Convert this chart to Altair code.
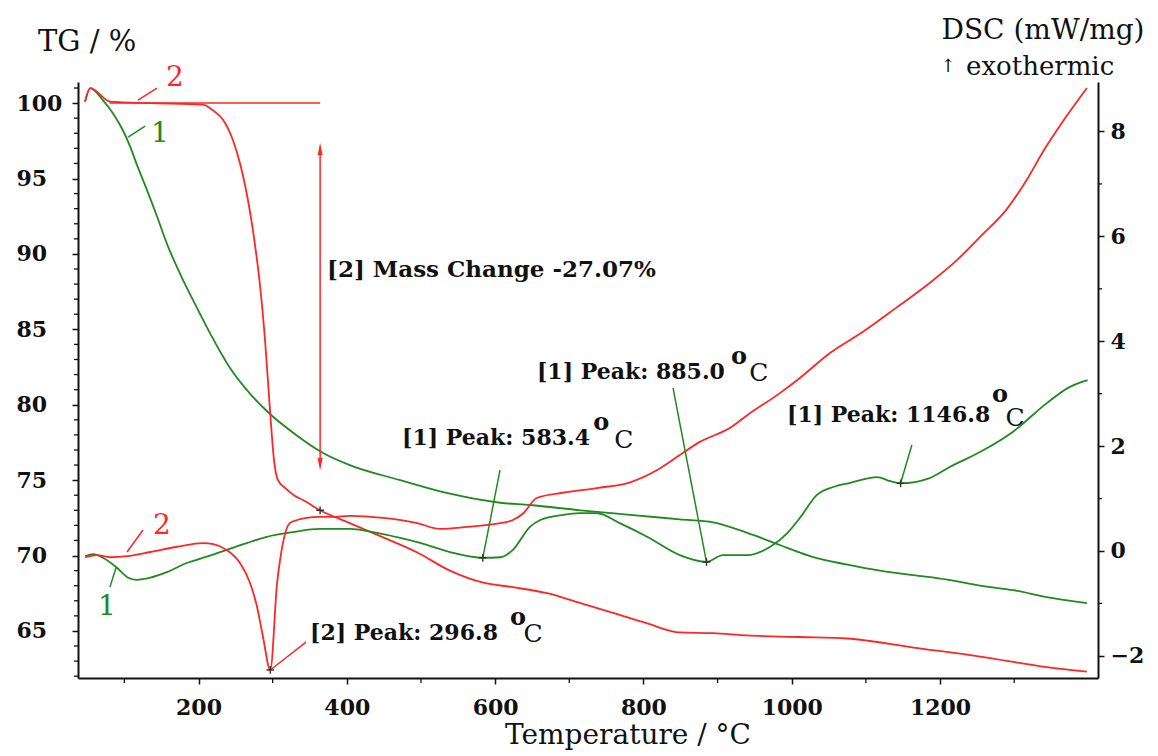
import altair as alt
import pandas as pd

# ---------------- data ----------------
# TG curve 1 (green), temperature in °C and mass in %
tg1_T = [47, 54, 71, 85, 98, 108, 117, 130, 144, 158, 175, 193, 216, 243, 270, 296, 333, 368, 404,
         472, 539, 607, 647, 715, 782, 849, 894, 940, 984, 1011, 1029, 1075, 1119, 1164, 1210, 1254,
         1299, 1344, 1398]
tg1_v = [100.1, 101.0, 100.2, 99.3, 98.2, 97.1, 95.9, 94.3, 92.5, 90.6, 88.7, 86.9, 84.7, 82.4, 80.7,
         79.4, 77.95, 76.8, 76.0, 75.0, 74.1, 73.5, 73.35, 73.0, 72.7, 72.4, 72.2, 71.5, 70.7, 70.2,
         69.9, 69.4, 69.0, 68.7, 68.4, 68.0, 67.7, 67.25, 66.85]

# TG curve 2 (red)
tg2_T = [47, 54, 81, 135, 206, 220, 233, 246, 256, 262.7, 269.5, 276.2, 282.9, 289.7, 296.4, 301.8,
         307.2, 316.7, 330.1, 341, 364, 404, 449, 495, 539, 584, 624, 670, 715, 759, 805, 849, 894,
         940, 1011, 1075, 1164, 1254, 1344, 1398]
tg2_v = [100.1, 101.0, 100.1, 100.0, 99.9, 99.5, 98.9, 97.6, 96.0, 94.57, 92.78, 90.59, 87.94, 84.29,
         79.65, 76.33, 75.0, 74.48, 73.95, 73.68, 73.0, 72.15, 71.2, 70.2, 69.0, 68.2, 67.9, 67.5,
         66.85, 66.2, 65.5, 64.9, 64.85, 64.7, 64.6, 64.5, 63.9, 63.3, 62.6, 62.3]

# DSC curve 1 (green), mW/mg
dsc1_T = [47, 58, 71, 90, 104, 117, 135, 158, 184, 211, 238, 265, 292, 327, 364, 404, 435, 472, 495,
          539, 583.4, 607, 624, 647, 661, 692, 714, 737, 768, 805, 849, 885, 907, 940, 971, 994, 1011,
          1034, 1056, 1079, 1115, 1133, 1146.8, 1186, 1213, 1257, 1298, 1344, 1375, 1399]
dsc1_v = [-0.10, -0.06, -0.13, -0.32, -0.50, -0.55, -0.51, -0.40, -0.23, -0.11, 0.02, 0.15, 0.27, 0.36,
          0.42, 0.42, 0.36, 0.25, 0.17, -0.02, -0.13, -0.12, 0.02, 0.46, 0.59, 0.69, 0.72, 0.72, 0.53,
          0.27, -0.08, -0.21, -0.08, -0.08, 0.08, 0.34, 0.63, 1.07, 1.22, 1.30, 1.41, 1.33, 1.29, 1.39,
          1.60, 1.91, 2.27, 2.82, 3.13, 3.26]

# DSC curve 2 (red)
dsc2_T = [47, 63, 81, 104, 135, 171, 206, 220, 238, 256, 269.5, 279, 287, 296.8, 306, 310, 317, 323,
          333, 346, 360, 381, 404, 449, 495, 526, 562, 607, 624, 638, 656, 691, 737, 782, 818, 849, 876,
          917, 940, 984, 1011, 1052, 1096, 1142, 1186, 1223, 1254, 1290, 1317, 1339, 1366, 1398]
dsc2_v = [-0.12, -0.08, -0.12, -0.10, -0.02, 0.08, 0.15, 0.13, 0.02, -0.23, -0.61, -1.07, -1.64, -2.27,
          -0.61, -0.17, 0.34, 0.53, 0.59, 0.63, 0.65, 0.65, 0.67, 0.63, 0.53, 0.42, 0.46, 0.53, 0.59,
          0.72, 1.01, 1.11, 1.20, 1.31, 1.54, 1.83, 2.08, 2.35, 2.59, 3.01, 3.30, 3.78, 4.18, 4.65, 5.11,
          5.55, 5.99, 6.52, 7.08, 7.62, 8.20, 8.83]

# axis ticks
x_ticks = [200, 400, 600, 800, 1000, 1200]
x_minor = [100, 300, 500, 700, 900, 1100, 1300]
tg_ticks = [65, 70, 75, 80, 85, 90, 95, 100]
tg_minor = [v for v in range(62, 102) if v % 5 != 0]
dsc_ticks = [-2, 0, 2, 4, 6, 8]
dsc_minor = [-1, 1, 3, 5, 7]

# annotations (TG-scale positions)
peak_text = ["[1] Peak: 583.4", "[1] Peak: 885.0", "[1] Peak: 1146.8", "[2] Peak: 296.8"]
peak_T = [474.5, 656.4, 993.6, 350.4]
peak_v = [77.79, 82.17, 79.32, 64.86]
deg_o_T = [743.0, 929.0, 1281.0, 631.0]
deg_o_v = [78.79, 83.16, 80.64, 65.86]
deg_C_T = [773.5, 955.6, 1301.0, 651.0]
deg_C_v = [77.66, 82.10, 79.12, 64.79]
mass_text = "[2] Mass Change -27.07%"
mass_T, mass_v = 373.3, 88.93
num_text = ["2", "1", "2", "1"]
num_T = [168.3, 148.0, 150.8, 76.6]
num_v = [101.66, 97.96, 71.96, 66.59]
num_c = ["red", "green", "red", "green"]

# leader lines on TG scale
tg_lead_x1 = [118.4, 105.0, 80.0, 364.0]
tg_lead_y1 = [100.2, 97.75, 100.0, 96.95]
tg_lead_x2 = [143.9, 128.0, 364.0, 364.0]
tg_lead_y2 = [101.0, 98.48, 100.0, 76.07]
tg_lead_c = ["red", "green", "red", "red"]
arrow_T = [364.0, 364.0]
arrow_v = [96.95, 76.07]
arrow_dir = ["up", "down"]
tg_mark_T, tg_mark_v = [364.0], [73.0]

# leader lines on DSC scale
dsc_lead_x1 = [103.6, 80.6, 583.4, 885.0, 1146.8, 296.8]
dsc_lead_y1 = [-0.02, -0.69, -0.13, -0.21, 1.29, -2.27]
dsc_lead_x2 = [125.2, 88.7, 606.6, 839.9, 1162.0, 345.0]
dsc_lead_y2 = [0.40, -0.32, 1.54, 3.11, 2.02, -1.74]
dsc_lead_c = ["red", "green", "green", "green", "green", "red"]
dsc_mark_T = [583.4, 885.0, 1146.8, 296.8]
dsc_mark_v = [-0.13, -0.21, 1.29, -2.27]

# ---------------- styling ----------------
FONT = "DejaVu Serif"
RED = "#ff2626"
GREEN = "#208a20"
INK = "#111111"
CMAP = {"red": RED, "green": GREEN}
W, H = 1020, 596

X_DOM = [37.5, 1413.0]
TG_DOM = [61.88, 101.40]
DSC_DOM = [-2.423, 8.944]

xscale = alt.Scale(domain=X_DOM, nice=False, zero=False)
tgscale = alt.Scale(domain=TG_DOM, nice=False, zero=False)
dscscale = alt.Scale(domain=DSC_DOM, nice=False, zero=False)

common_axis = dict(grid=False, domainColor=INK, domainWidth=2, tickColor=INK, tickWidth=1.5,
                   tickSize=6, labelFont=FONT, labelFontSize=22, labelFontWeight="bold",
                   labelColor=INK, title=None, labelOverlap=False)
x_axis = alt.Axis(orient="bottom", values=x_ticks, format="d", labelPadding=13, **common_axis)
tg_axis = alt.Axis(orient="left", values=tg_ticks, labelAlign="left", labelPadding=56, **common_axis)
dsc_axis = alt.Axis(orient="right", values=dsc_ticks, labelPadding=6, **common_axis)


def X(f):
    return alt.X(f, type="quantitative", scale=xscale, axis=x_axis)


def YT(f):
    return alt.Y(f, type="quantitative", scale=tgscale, axis=tg_axis)


def YD(f):
    return alt.Y(f, type="quantitative", scale=dscscale, axis=dsc_axis)


COL = alt.Color("col:N", scale=None)

# ---------------- tables ----------------
tg_df = pd.concat([
    pd.DataFrame({"T": tg1_T, "v": tg1_v, "s": "tg1", "col": GREEN}),
    pd.DataFrame({"T": tg2_T, "v": tg2_v, "s": "tg2", "col": RED}),
])
dsc_df = pd.concat([
    pd.DataFrame({"T": dsc1_T, "v": dsc1_v, "s": "dsc1", "col": GREEN}),
    pd.DataFrame({"T": dsc2_T, "v": dsc2_v, "s": "dsc2", "col": RED}),
])
tg_lead = pd.DataFrame({"x1": tg_lead_x1, "y1": tg_lead_y1, "x2": tg_lead_x2, "y2": tg_lead_y2,
                        "col": [CMAP[c] for c in tg_lead_c]})
dsc_lead = pd.DataFrame({"x1": dsc_lead_x1, "y1": dsc_lead_y1, "x2": dsc_lead_x2, "y2": dsc_lead_y2,
                         "col": [CMAP[c] for c in dsc_lead_c]})
UP = "M0,-1L0.42,1L-0.42,1Z"
DOWN = "M0,1L0.42,-1L-0.42,-1Z"
arrow_df = pd.DataFrame({"T": arrow_T, "v": arrow_v, "shp": [UP if d == "up" else DOWN for d in arrow_dir]})
peak_df = pd.DataFrame({"T": peak_T + [mass_T], "v": peak_v + [mass_v], "txt": peak_text + [mass_text],
                        "sz": [22, 22, 22, 22, 23]})
o_df = pd.DataFrame({"T": deg_o_T, "v": deg_o_v, "txt": ["o"] * 4})
c_df = pd.DataFrame({"T": deg_C_T, "v": deg_C_v, "txt": ["C"] * 4})
num_df = pd.DataFrame({"T": num_T, "v": num_v, "txt": num_text, "col": [CMAP[c] for c in num_c]})

CROSS = "M-1,0L1,0M0,-1L0,1"

# ---------------- TG group (left axis) ----------------
tg_lines = alt.Chart(tg_df).mark_line(interpolate="monotone", strokeWidth=1.8).encode(
    x=X("T"), y=YT("v"), color=COL, detail="s:N")
tg_leaders = alt.Chart(tg_lead).mark_rule(strokeWidth=1.5).encode(
    x=X("x1"), y=YT("y1"), x2="x2", y2="y2", color=COL)
arrows = alt.Chart(arrow_df).mark_point(filled=True, size=150, opacity=1, color=RED).encode(
    x=X("T"), y=YT("v"), shape=alt.Shape("shp:N", scale=None))
tg_marks = alt.Chart(pd.DataFrame({"T": tg_mark_T, "v": tg_mark_v})).mark_point(
    shape=CROSS, filled=False, size=60, strokeWidth=1.4, color="#333333", opacity=1).encode(
    x=X("T"), y=YT("v"))
peak_labels = alt.Chart(peak_df).mark_text(align="left", baseline="middle", font=FONT,
                                           fontWeight="bold", color=INK).encode(
    x=X("T"), y=YT("v"), text="txt:N", size=alt.Size("sz:Q", scale=None))
o_labels = alt.Chart(o_df).mark_text(align="center", baseline="middle", font=FONT, fontWeight="bold",
                                     fontSize=24, color=INK).encode(x=X("T"), y=YT("v"), text="txt:N")
c_labels = alt.Chart(c_df).mark_text(align="center", baseline="middle", font=FONT, fontSize=25,
                                     color=INK).encode(x=X("T"), y=YT("v"), text="txt:N")
num_labels = alt.Chart(num_df).mark_text(align="center", baseline="middle", font=FONT, fontSize=28).encode(
    x=X("T"), y=YT("v"), text="txt:N", color=COL)
tg_minor_ticks = alt.Chart(pd.DataFrame({"v": tg_minor})).mark_rule(color=INK, strokeWidth=1.3).encode(
    y=YT("v"), x=alt.value(0), x2=alt.value(-4))
x_minor_ticks = alt.Chart(pd.DataFrame({"T": x_minor})).mark_rule(color=INK, strokeWidth=1.3).encode(
    x=X("T"), y=alt.value(H), y2=alt.value(H + 5))


def title_text(txt, xpx, ypx, size, align="left"):
    return alt.Chart(pd.DataFrame({"t": [txt]})).mark_text(
        align=align, baseline="alphabetic", font=FONT, fontSize=size, color=INK).encode(
        x=alt.value(xpx), y=alt.value(ypx), text="t:N")


titles = [
    title_text("TG / %", -40, -31, 29),
    title_text("DSC (mW/mg)", 965, -43, 28, "center"),
    title_text("↑", 870, -10, 18, "center"),
    title_text("exothermic", 888, -7, 26),
    title_text("Temperature / °C", 550, 662, 28, "center"),
]

tg_group = alt.layer(tg_lines, tg_leaders, arrows, tg_marks, peak_labels, o_labels, c_labels,
                     num_labels, tg_minor_ticks, x_minor_ticks, *titles)

# ---------------- DSC group (right axis) ----------------
dsc_lines = alt.Chart(dsc_df).mark_line(interpolate="monotone", strokeWidth=1.8).encode(
    x=X("T"), y=YD("v"), color=COL, detail="s:N")
dsc_leaders = alt.Chart(dsc_lead).mark_rule(strokeWidth=1.5).encode(
    x=X("x1"), y=YD("y1"), x2="x2", y2="y2", color=COL)
dsc_marks = alt.Chart(pd.DataFrame({"T": dsc_mark_T, "v": dsc_mark_v})).mark_point(
    shape=CROSS, filled=False, size=60, strokeWidth=1.4, color="#333333", opacity=1).encode(
    x=X("T"), y=YD("v"))
dsc_minor_ticks = alt.Chart(pd.DataFrame({"v": dsc_minor})).mark_rule(color=INK, strokeWidth=1.3).encode(
    y=YD("v"), x=alt.value(W), x2=alt.value(W + 4))

dsc_group = alt.layer(dsc_lines, dsc_leaders, dsc_marks, dsc_minor_ticks)

chart = alt.layer(tg_group, dsc_group).resolve_scale(y="independent").properties(
    width=W, height=H,
    padding={"left": 78, "top": 82, "right": 60, "bottom": 78},
    autosize=alt.AutoSizeParams(type="none"),
    background="white",
).configure_view(stroke=None)

chart.save("out.html", embed_options={"renderer": "svg", "actions": False})
